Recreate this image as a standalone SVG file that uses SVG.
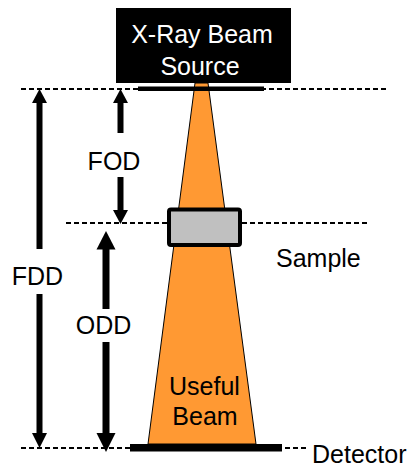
<svg xmlns="http://www.w3.org/2000/svg" width="413" height="471" viewBox="0 0 413 471">
<style>
text{font-family:"Liberation Sans",Arial,sans-serif;font-size:25px;fill:#000}
.dash{stroke:#000;stroke-width:2;stroke-dasharray:5 3;fill:none}
.shaft{stroke:#000;fill:none}
.head{fill:#000}
</style>
<rect width="413" height="471" fill="#fff"/>
<g id="beam">
<polygon points="195,83 208,83 256,444 148,444" fill="#ff9933" stroke="#000" stroke-width="1"/>
</g>
<g id="connectors">
<line class="dash" x1="21" y1="89" x2="387" y2="89"/>
<line class="dash" x1="66" y1="223" x2="368" y2="223"/>
<line class="dash" x1="21" y1="448" x2="308" y2="448"/>
<!-- FDD -->
<line class="shaft" stroke-width="6" x1="39.5" y1="100" x2="39.5" y2="249"/>
<line class="shaft" stroke-width="6" x1="39.5" y1="294" x2="39.5" y2="436"/>
<polygon class="head" points="39.5,89 47,103 32,103"/>
<polygon class="head" points="39.5,448 47,433 32,433"/>
<!-- FOD -->
<line class="shaft" stroke-width="6" x1="120.5" y1="100" x2="120.5" y2="133"/>
<line class="shaft" stroke-width="6" x1="120.5" y1="177" x2="120.5" y2="213"/>
<polygon class="head" points="120.5,89 128,103 113,103"/>
<polygon class="head" points="120.5,224 128,210 113,210"/>
<!-- ODD -->
<line class="shaft" stroke-width="7" x1="106" y1="246" x2="106" y2="309"/>
<line class="shaft" stroke-width="7" x1="106" y1="342" x2="106" y2="436"/>
<polygon class="head" points="106,231 115.5,249.5 96.5,249.5"/>
<polygon class="head" points="106,452 115.5,433 96.5,433"/>
</g>
<g id="source">
<rect x="116" y="8" width="175" height="75" fill="#000"/>
<rect x="138" y="86.5" width="126" height="4.5" fill="#000"/>
<text x="202" y="43" text-anchor="middle" style="fill:#fff">X-Ray Beam</text>
<text x="200" y="75" text-anchor="middle" style="fill:#fff">Source</text>
</g>
<g id="sample">
<rect x="169" y="209.5" width="71" height="35.5" rx="2" fill="#c0c0c0" stroke="#000" stroke-width="4"/>
<text x="276" y="267">Sample</text>
</g>
<g id="detector">
<rect x="130" y="444" width="152" height="7.5" fill="#000"/>
<text x="312" y="463">Detector</text>
</g>
<g id="labels">
<text x="114" y="170" text-anchor="middle">FOD</text>
<text x="37.5" y="285" text-anchor="middle">FDD</text>
<text x="103.5" y="334" text-anchor="middle">ODD</text>
<text x="204.5" y="395" text-anchor="middle">Useful</text>
<text x="205" y="425" text-anchor="middle">Beam</text>
</g>
</svg>
